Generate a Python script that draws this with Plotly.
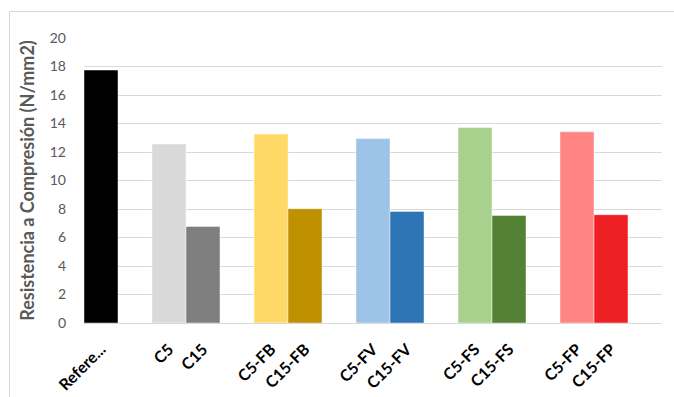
import plotly.graph_objects as go

# Compressive strength per mix, grouped by fibre type
groups = [
    ["Refere..."],
    ["C5", "C15"],
    ["C5-FB", "C15-FB"],
    ["C5-FV", "C15-FV"],
    ["C5-FS", "C15-FS"],
    ["C5-FP", "C15-FP"],
]
values = [17.75, 12.56, 6.78, 13.26, 8.02, 12.95, 7.83, 13.72, 7.55, 13.42, 7.60]
colors = [
    "#000000",
    "#D9D9D9", "#7F7F7F",
    "#FFD966", "#BF9000",
    "#9DC3E6", "#2E75B6",
    "#A9D18E", "#548235",
    "#FF8585", "#EE2024",
]
y_ticks = [0, 2, 4, 6, 8, 10, 12, 14, 16, 18, 20]

# one empty slot after every group
labels, positions = [], []
slot = 0
for grp in groups:
    for name in grp:
        labels.append(name)
        positions.append(slot)
        slot += 1
    slot += 1

fig = go.Figure(
    go.Bar(
        x=positions,
        y=values,
        width=1,
        marker=dict(color=colors, line=dict(color="rgba(255,255,255,0.45)", width=1)),
        hoverinfo="skip",
    )
)

W, H = 674, 397
L, R, T, B = 84, 12, 38, 74
pw, ph = W - L - R, H - T - B

def px_x(v):
    return (v - L) / pw

def px_y(v):
    return (H - B - v) / ph

fig.add_shape(
    type="rect", xref="paper", yref="paper",
    x0=px_x(9.5), x1=px_x(W + 10), y0=px_y(H + 10), y1=px_y(11.5),
    line=dict(color="#D9D9D9", width=1), fillcolor="rgba(0,0,0,0)", layer="below",
)

fig.update_layout(
    width=W, height=H,
    margin=dict(l=L, r=R, t=T, b=B, autoexpand=False),
    paper_bgcolor="white", plot_bgcolor="white",
    showlegend=False,
    font=dict(family="Lato, Open Sans, sans-serif"),
    xaxis=dict(
        range=[-0.5, slot - 0.5],
        tickmode="array", tickvals=positions, ticktext=labels,
        tickangle=-45,
        tickfont=dict(size=16, color="#000000", family="Lato", weight="bold"),
        showgrid=False, zeroline=False, showline=False,
        ticks="", ticklabelstandoff=13, fixedrange=True, automargin=False,
    ),
    yaxis=dict(
        range=[0, 20],
        tickvals=y_ticks,
        tickfont=dict(size=14, color="#595959"),
        gridcolor="#D9D9D9", gridwidth=1,
        zeroline=True, zerolinecolor="#D9D9D9", zerolinewidth=1,
        showline=False, ticks="", ticklabelstandoff=17,
        title=dict(
            text="Resistencia a Compresión (N/mm2)",
            font=dict(size=18, color="#595959", family="Lato", weight="bold"),
            standoff=10,
        ),
        fixedrange=True, automargin=False,
    ),
)

fig.write_html("out.html")
